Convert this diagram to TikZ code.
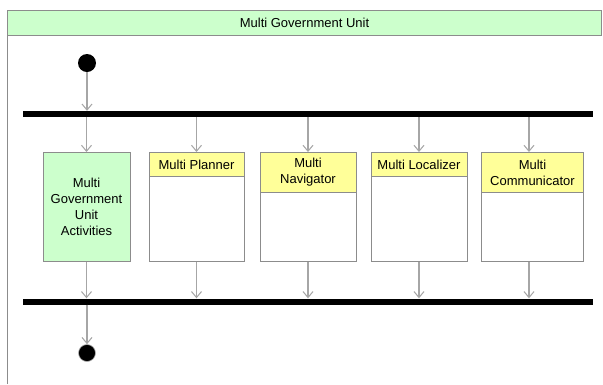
\documentclass[tikz,border=0pt]{standalone}
\usepackage{fontspec}
\setmainfont{Liberation Sans}
\usetikzlibrary{arrows.meta}
\definecolor{lgreen}{HTML}{CCFFCC}
\definecolor{lyellow}{HTML}{FFFF99}
\definecolor{edgegray}{HTML}{8C8C8C}
\definecolor{arrgray}{HTML}{A6A6A6}
\begin{document}
\begin{tikzpicture}[x=1pt,y=-1pt,
  lbl/.style={font=\fontsize{13}{16}\selectfont, align=center},
  actbox/.style={draw=edgegray, line width=1pt, fill=white, minimum height=109pt, inner sep=0pt, anchor=north},
  greenbox/.style={actbox, fill=lgreen, lbl},
  hdr/.style={draw=edgegray, line width=1pt, fill=lyellow, anchor=north, inner sep=0pt, lbl},
  syncbar/.style={fill=black, minimum width=570pt, minimum height=6pt, inner sep=0pt},
  startnode/.style={circle, fill=black, minimum size=18pt, inner sep=0pt},
  endnode/.style={circle, fill=black, draw=gray!60, line width=0.6pt, minimum size=17pt, inner sep=0pt},
  arr/.style={draw=arrgray, line width=1.2pt, -{Straight Barb[length=6pt,width=10pt,line width=1pt]}}]
\useasboundingbox (0,0) rectangle (603,384);
\fill[white] (0,0) rectangle (603,384);
\draw[edgegray, line width=1pt] (7,384) -- (7,10);
\node[draw=edgegray, line width=1pt, fill=lgreen, minimum width=594pt, minimum height=25pt, anchor=north west, inner sep=0pt, lbl] (title) at (7,10) {Multi Government Unit};

\node[startnode] (start) at (87,63) {};
\node[syncbar] (fork) at (308,114) {};
\node[syncbar] (join) at (308,301.5) {};
\node[endnode] (stop) at (87,353) {};

\node[greenbox, minimum width=87pt] (g) at (86.5,152) {Multi\\Government\\Unit\\Activities};
\node[actbox, minimum width=95pt] (p) at (196.5,152) {};
\node[actbox, minimum width=96pt] (n) at (308,152) {};
\node[actbox, minimum width=96pt] (l) at (419,152) {};
\node[actbox, minimum width=102pt] (c) at (532.5,152) {};

\node[hdr, minimum width=95pt, minimum height=24pt] (ph) at (p.north) {Multi Planner};
\node[hdr, minimum width=96pt, minimum height=40pt] (nh) at (n.north) {Multi\\Navigator};
\node[hdr, minimum width=96pt, minimum height=24pt] (lh) at (l.north) {Multi Localizer};
\node[hdr, minimum width=102pt, minimum height=40pt] (ch) at (c.north) {Multi\\Communicator};

\draw[arr] (start) -- (fork.north -| start);
\foreach \b in {g,p,n,l}{
  \draw[arr] (fork.south -| \b.north) -- (\b.north);
  \draw[arr] (\b.south) -- (join.north -| \b.south);
}
\coordinate (cx) at (529,152);
\draw[arr] (fork.south -| cx) -- (c.north -| cx);
\draw[arr] (c.south -| cx) -- (join.north -| cx);
\draw[arr] (join.south -| stop) -- (stop);
\end{tikzpicture}
\end{document}
